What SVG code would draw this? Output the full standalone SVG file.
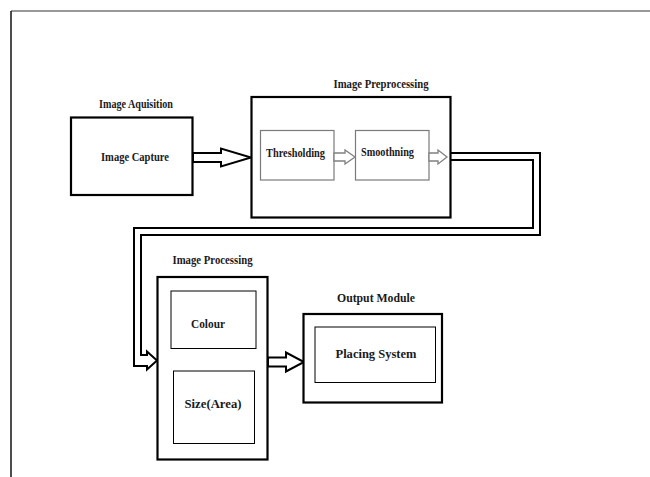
<svg xmlns="http://www.w3.org/2000/svg" width="650" height="477" viewBox="0 0 650 477">
<style>
  text { font-family: "Liberation Serif", "Times New Roman", serif; font-weight: bold; fill: #1a1a1a; text-anchor: middle; }
  .lbl { font-size: 12px; }
  .big { font-size: 13.5px; }
  .main { fill: #fff; stroke: #000; stroke-width: 2.2; }
  .innerB { fill: none; stroke: #000; stroke-width: 1; }
  .innerG { fill: none; stroke: #7a7a7a; stroke-width: 1.2; }
  .arrowB { fill: #fff; stroke: #000; stroke-width: 2; stroke-linejoin: miter; }
  .arrowG { fill: #fff; stroke: #808080; stroke-width: 1.3; }
</style>
<rect width="650" height="477" fill="#fff"/>
<g id="frame">
  <line x1="11" y1="11" x2="650" y2="11" stroke="#777" stroke-width="1.6"/>
  <line x1="11" y1="11" x2="11" y2="477" stroke="#000" stroke-width="1.4"/>
</g>
<g id="connectors">
  <path class="arrowB" d="M193,153 H221 V148.5 L251,157.5 L221,166.5 V162 H193 Z"/>
  <path class="arrowB" style="fill:none" d="M451,153 H540 V235 H141 V355 H147 V351.5 L157,360.5 L147,369.5 V366 H134 V228 H533 V160 H451"/>
  <path class="arrowB" d="M268,357.5 H286 V352.5 L304,362 L286,371.5 V366.5 H268 Z"/>
</g>
<g id="acquisition">
  <text class="lbl" x="136" y="107.5" textLength="74" lengthAdjust="spacingAndGlyphs">Image Aquisition</text>
  <rect class="main" x="71" y="117.5" width="121.5" height="77.5"/>
  <text class="lbl" x="135" y="161" textLength="68" lengthAdjust="spacingAndGlyphs">Image Capture</text>
</g>
<g id="preprocessing">
  <text class="lbl" x="381" y="88" textLength="95" lengthAdjust="spacingAndGlyphs">Image Preprocessing</text>
  <rect class="main" x="251.5" y="97" width="199" height="120.5"/>
  <g id="thresholding">
    <rect class="innerG" x="260.5" y="130.5" width="73.5" height="49.5"/>
    <text class="lbl" x="295.5" y="157" textLength="59" lengthAdjust="spacingAndGlyphs">Thresholding</text>
  </g>
  <g id="smoothning">
    <rect class="innerG" x="355.5" y="130.5" width="73.5" height="49.5"/>
    <text class="lbl" x="387.5" y="156" textLength="53" lengthAdjust="spacingAndGlyphs">Smoothning</text>
  </g>
  <path class="arrowG" d="M334,153 H345 V150 L355,157 L345,164 V161 H334 Z"/>
  <path class="arrowG" d="M429,153 H438 V150 L447,157 L438,164 V161 H429 Z"/>
</g>
<g id="processing">
  <text class="lbl" x="212.5" y="264" textLength="80" lengthAdjust="spacingAndGlyphs">Image Processing</text>
  <rect class="main" x="157.5" y="277" width="110" height="182.5"/>
  <g id="colour">
    <rect class="innerB" x="171" y="291" width="85" height="57.5"/>
    <text class="lbl" x="208" y="328" textLength="34" lengthAdjust="spacingAndGlyphs">Colour</text>
  </g>
  <g id="size">
    <rect class="innerB" x="173.5" y="371" width="81" height="72.5"/>
    <text class="lbl" x="213" y="408" textLength="57" lengthAdjust="spacingAndGlyphs">Size(Area)</text>
  </g>
</g>
<g id="output">
  <text class="big" x="376" y="302" textLength="78" lengthAdjust="spacingAndGlyphs">Output Module</text>
  <rect class="main" x="303.5" y="314" width="138.5" height="88.5"/>
  <rect class="innerB" x="315" y="327" width="120.5" height="55.5"/>
  <text class="big" x="376" y="358" textLength="81" lengthAdjust="spacingAndGlyphs">Placing System</text>
</g>
</svg>
